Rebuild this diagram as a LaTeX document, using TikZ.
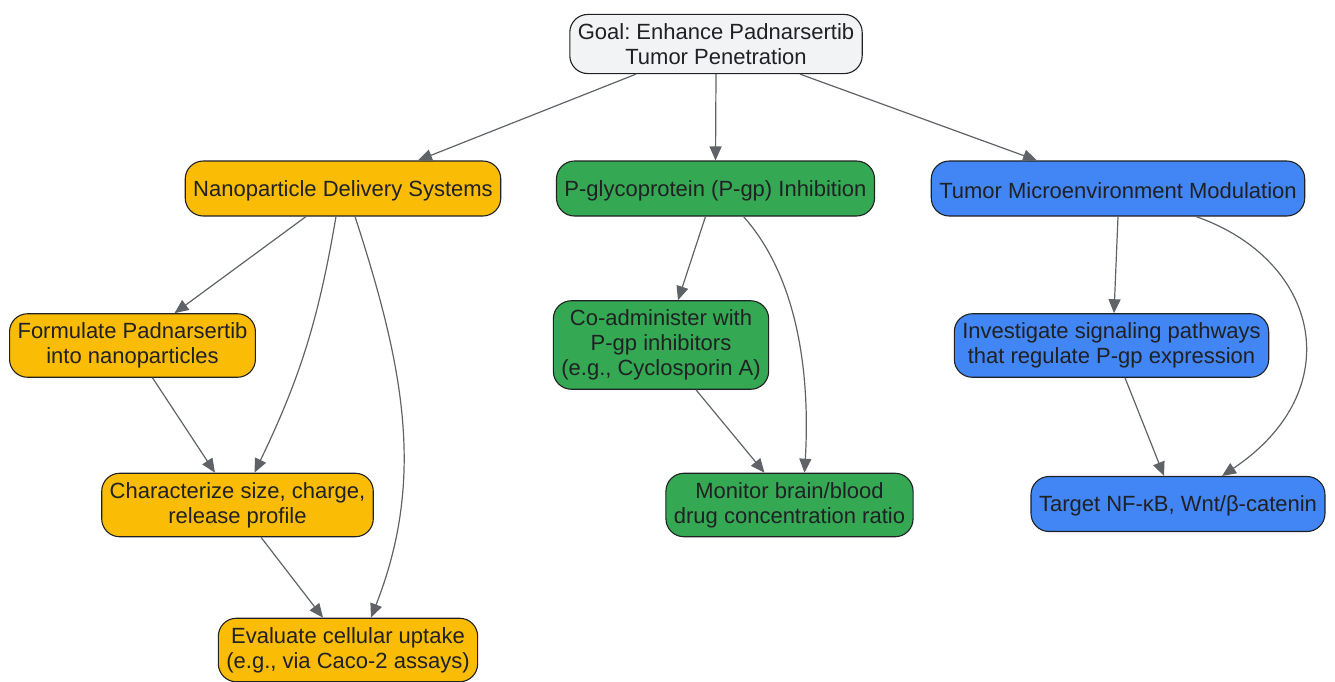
\documentclass[tikz,border=0pt]{standalone}
\usepackage{fontspec}
\setmainfont{Liberation Sans}
\usepackage{tikz}
\usetikzlibrary{arrows.meta}
\frenchspacing

\definecolor{goalgray}{HTML}{F1F3F4}
\definecolor{nanoyellow}{HTML}{FBBC05}
\definecolor{pgpgreen}{HTML}{34A853}
\definecolor{tmeblue}{HTML}{4285F4}
\definecolor{inkdark}{HTML}{202124}
\definecolor{edgegray}{HTML}{5F6368}

\tikzset{
  box/.style={draw=inkdark, line width=1.1pt, rounded corners=18pt, align=center,
    text=inkdark, font=\fontsize{22}{25}\selectfont,
    execute at begin node={\rule{0pt}{20pt}},
    inner xsep=8pt, inner ysep=9pt, minimum height=55pt},
  goalbox/.style={box, fill=goalgray},
  nanobox/.style={box, fill=nanoyellow},
  pgpbox/.style={box, fill=pgpgreen},
  tmebox/.style={box, fill=tmeblue},
  link/.style={draw=edgegray, line width=1.2pt, -{Triangle[length=14pt,width=12pt]}}
}

\begin{document}
\begin{tikzpicture}[x=1pt, y=-1pt]
				\useasboundingbox (0,0) rectangle (1335,681);
				\node[goalbox] (goal) at (716,44) {Goal: Enhance Padnarsertib\\Tumor Penetration};
				\node[nanobox] (nano) at (343,188.5) {Nanoparticle Delivery Systems};
				\node[pgpbox] (pgp) at (715.5,188.5) {P-glycoprotein (P-gp) Inhibition};
				\node[tmebox] (tme) at (1118,188.5) {Tumor Microenvironment Modulation};
				\node[nanobox] (form) at (132.5,345.5) {Formulate Padnarsertib\\into nanoparticles};
				\node[nanobox] (char) at (237.5,505) {Characterize size, charge,\\release profile};
				\node[nanobox] (eval) at (348,650) {Evaluate cellular uptake\\(e.g., via Caco-2 assays)};
				\node[pgpbox] (coadm) at (661,345) {Co-administer with\\P-gp inhibitors\\(e.g., Cyclosporin A)};
				\node[pgpbox] (mon) at (789.5,505) {Monitor brain/blood\\drug concentration ratio};
				\node[tmebox] (inv) at (1111.5,345.5) {Investigate signaling pathways\\that regulate P-gp expression};
				\node[tmebox] (target) at (1178,504) {Target NF-κB, Wnt/β-catenin};

				% from the goal
				\draw[link] ([xshift=-80pt]goal.south) -- ([xshift=75pt]nano.north);
				\draw[link] (goal.south) -- (pgp.north);
				\draw[link] ([xshift=84pt]goal.south) -- ([xshift=-81pt]tme.north);

				% nanoparticles
				\draw[link] ([xshift=-37pt]nano.south) -- ([xshift=42pt]form.north);
				\draw[link] ([xshift=-7pt]nano.south) to[bend left=8] ([xshift=17pt]char.north);
				\draw[link] ([xshift=12pt]nano.south) .. controls (405,370) and (425,480) .. ([xshift=23pt]eval.north);
				\draw[link] ([xshift=20pt]form.south) -- ([xshift=-22.5pt]char.north);
				\draw[link] ([xshift=23.5pt]char.south) -- ([xshift=-25pt]eval.north);

				% P-gp
				\draw[link] ([xshift=-10pt]pgp.south) -- ([xshift=17pt]coadm.north);
				\draw[link] ([xshift=28pt]pgp.south) .. controls (800,280) and (810,380) .. ([xshift=15pt]mon.north);
				\draw[link] ([xshift=35pt]coadm.south) -- ([xshift=-25pt]mon.north);

				% microenvironment
				\draw[link] (tme.south) -- ([xshift=2.5pt]inv.north);
				\draw[link] ([xshift=78pt]tme.south) .. controls (1320,260) and (1350,390) .. ([xshift=44pt]target.north);
				\draw[link] ([xshift=13.5pt]inv.south) -- ([xshift=-14pt]target.north);
\end{tikzpicture}
\end{document}
